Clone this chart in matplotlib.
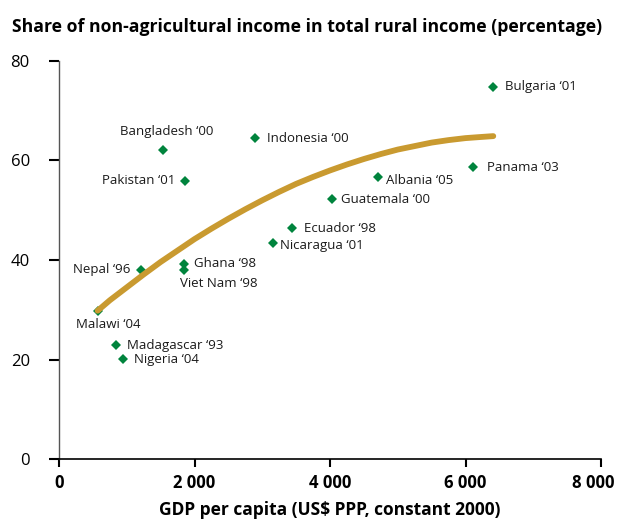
import matplotlib
matplotlib.use("Agg")
import matplotlib.pyplot as plt
import matplotlib.transforms as mtransforms

plt.rcParams['font.family'] = ['Open Sans', 'DejaVu Sans']

# scatter: GDP per capita vs share of non-agricultural income
countries = ["Bulgaria \u201801", "Indonesia \u201800", "Bangladesh \u201800", "Pakistan \u201801",
             "Panama \u201803", "Albania \u201805", "Guatemala \u201800", "Ecuador \u201898",
             "Nicaragua \u201801", "Nepal \u201896", "Ghana \u201898", "Viet Nam \u201898",
             "Malawi \u201804", "Madagascar \u201893", "Nigeria \u201804"]
gdp = [6410, 2890, 1530, 1865, 6110, 4710, 4035, 3445, 3155, 1205, 1840, 1840, 570, 845, 940]
share = [74.8, 64.5, 62.2, 55.9, 58.6, 56.6, 52.3, 46.4, 43.4, 38.0, 39.2, 38.0, 29.8, 22.9, 20.2]

# trend curve
trend_x = [570, 750, 1000, 1250, 1500, 1750, 2000, 2250, 2500, 2750, 3000, 3250, 3500,
           3750, 4000, 4250, 4500, 4750, 5000, 5250, 5500, 5750, 6000, 6200, 6410]
trend_y = [29.8, 31.9, 34.5, 37.1, 39.6, 41.9, 44.2, 46.3, 48.3, 50.2, 52.0, 53.7, 55.3,
           56.7, 58.0, 59.2, 60.3, 61.3, 62.2, 62.9, 63.6, 64.1, 64.5, 64.7, 64.9]

# label offsets in pixels (dx, dy, ha, va)
offsets = [(12, 0, 'left', 'center'), (12, 0, 'left', 'center'), (4, 12, 'center', 'bottom'),
           (-10, 0, 'right', 'center'), (14, 0, 'left', 'center'), (8, -3, 'left', 'center'),
           (9, -1, 'left', 'center'), (12, 0, 'left', 'center'), (7, -2, 'left', 'center'),
           (-10, 0, 'right', 'center'), (10, 0, 'left', 'center'), (-4, -14, 'left', 'center'),
           (11, -14, 'center', 'center'), (11, 0, 'left', 'center'), (11, -1, 'left', 'center')]

fig = plt.figure(figsize=(6.17, 5.25), dpi=100)
ax = fig.add_axes([59 / 617, 1 - 459 / 525, 542 / 617, 398 / 525])

ax.plot(trend_x, trend_y, color='#C99A30', lw=4.2, solid_capstyle='round',
        solid_joinstyle='round', zorder=3)
ax.plot(gdp, share, 'D', color='#00843D', ms=5.3, mew=0, zorder=2)

for name, x, y, (dx, dy, ha, va) in zip(countries, gdp, share, offsets):
    ax.annotate(name, (x, y), xytext=(dx, dy), textcoords='offset pixels',
                ha=ha, va=va, fontsize=9.5, color='#1a1a1a')

ax.set_xlim(0, 8000)
ax.set_ylim(0, 80)
ax.set_xticks([0, 2000, 4000, 6000, 8000])
ax.set_xticklabels(['0', '2 000', '4 000', '6 000', '8 000'], fontweight='bold')
ax.set_yticks([0, 20, 40, 60, 80])
ax.tick_params(axis='x', length=6, width=1.5, labelsize=12, pad=5, color='black')
ax.tick_params(axis='y', length=7, width=1.5, labelsize=12, pad=14, color='black')
for s in ['top', 'right']:
    ax.spines[s].set_visible(False)
ax.spines['bottom'].set_linewidth(1.2)
ax.spines['left'].set_color('#555555')
ax.spines['left'].set_linewidth(1.0)

# last x label pulled left so it stays inside the figure
last = ax.get_xticklabels()[-1]
last.set_transform(last.get_transform() + mtransforms.ScaledTranslation(-8 / 100, 0, fig.dpi_scale_trans))

fig.text(330 / 617, 1 - 515 / 525, 'GDP per capita (US$ PPP, constant 2000)', fontsize=12.5,
         fontweight='bold', ha='center', va='baseline')
fig.text(12 / 617, 1 - 31.5 / 525, 'Share of non-agricultural income in total rural income (percentage)',
         fontsize=12.7, fontweight='bold', ha='left', va='baseline')

fig.savefig('out.png', dpi=100)
